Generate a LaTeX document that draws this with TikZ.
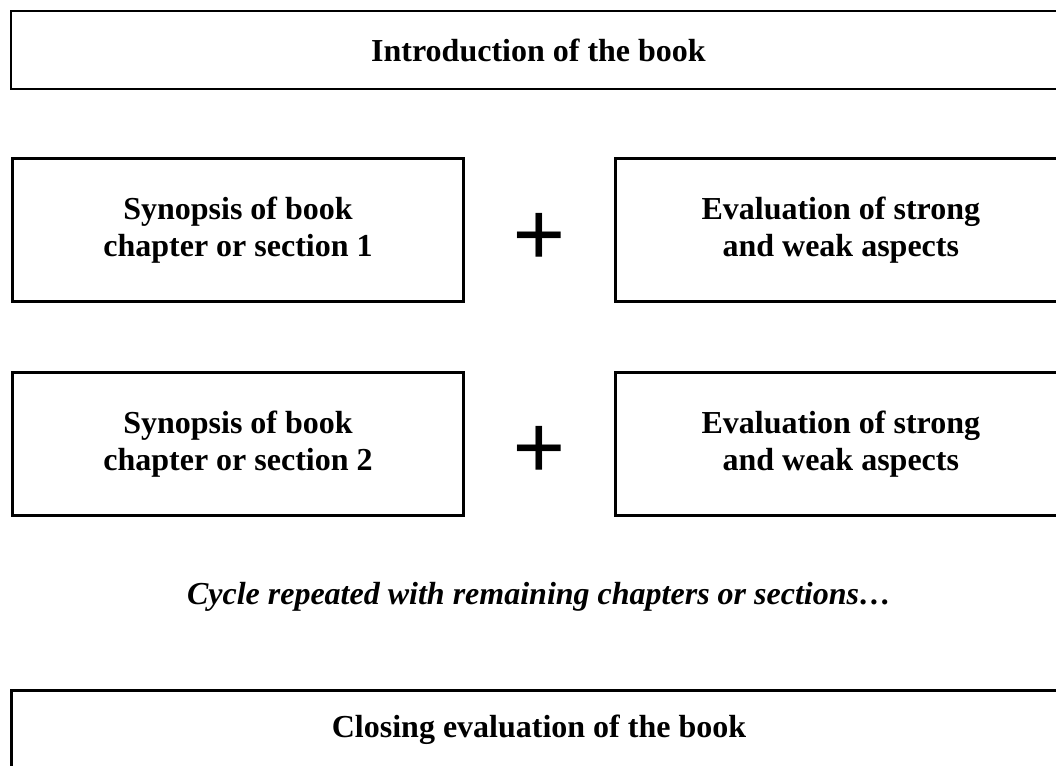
\documentclass[tikz,border=0pt]{standalone}
\usepackage{fontspec}
\setmainfont{Liberation Serif}
\usetikzlibrary{positioning,calc}

\begin{document}
\begin{tikzpicture}[x=1pt,y=-1pt,node distance=67pt,
  block/.style={draw,rectangle,line width=2.8pt,inner sep=0pt,align=center,
    font=\fontsize{32}{37}\selectfont\bfseries},
  wide/.style={block,minimum width=1055pt,minimum height=78pt},
  half/.style={block,minimum width=451pt,minimum height=143pt},
  plus/.style={inner sep=0pt,font=\fontsize{94}{94}\selectfont\bfseries},
  note/.style={inner sep=0pt,font=\fontsize{32}{37}\selectfont\bfseries\itshape}]
\useasboundingbox (0,0) rectangle (1056,765);
\clip (0,0) rectangle (1056,765);
% Review Layout
\node[wide] (intro) at (538.5,50) {Introduction of the book};
\node[half,below right=67pt and 1.5pt of intro.south west] (syn1) {Synopsis of book\\chapter or section 1};
\node[half,right=149pt of syn1] (eval1) {Evaluation of strong\\and weak aspects};
\node[half,below=68pt of syn1] (syn2) {Synopsis of book\\chapter or section 2};
\node[half,right=149pt of syn2] (eval2) {Evaluation of strong\\and weak aspects};

\node[plus] (plus1) at ($(syn1.east)!0.5!(eval1.west)+(0,9.5)$) {+};
\node[plus] (plus2) at ($(syn2.east)!0.5!(eval2.west)+(0,9)$) {+};

\node[note] (cycle) at (539,597) {Cycle repeated with remaining chapters or sections…};
\node[wide,below right=172pt and -1pt of syn2.south west] (closing) {Closing evaluation of the book};
\end{tikzpicture}
\end{document}
